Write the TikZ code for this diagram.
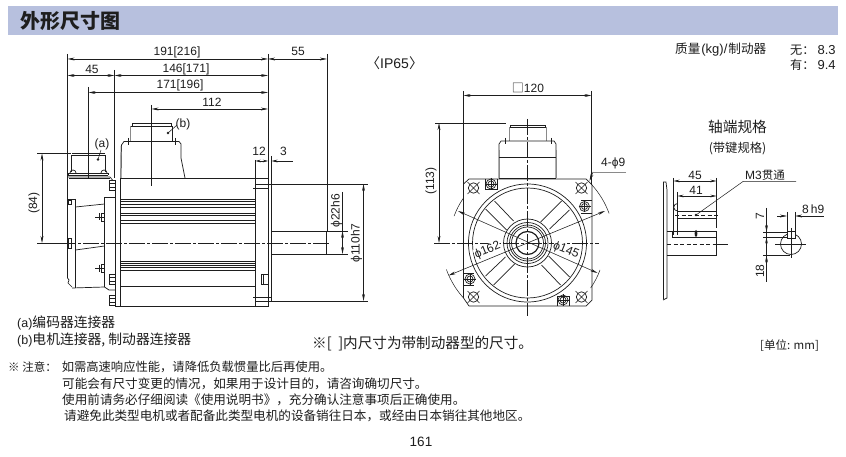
\documentclass[tikz,border=0pt]{standalone}
\usepackage{fontspec}
\setmainfont{Liberation Sans}
\newfontfamily\cjk{Noto Sans CJK SC}
\usetikzlibrary{arrows.meta,calc}
\definecolor{ink}{HTML}{1E1E1E}
\definecolor{band}{HTML}{B7C0DE}
\definecolor{soft}{HTML}{8A8A8A}
\tikzset{
  part/.style={draw=ink,line width=0.7pt},
  heavy/.style={draw=ink,line width=1.2pt},
  greyline/.style={draw=soft,line width=0.8pt},
  thin/.style={draw=ink,line width=0.5pt},
  dimline/.style={draw=ink,line width=0.55pt,{Stealth[length=7pt,width=2.8pt]}-{Stealth[length=7pt,width=2.8pt]}},
  toend/.style={draw=ink,line width=0.55pt,-{Stealth[length=7pt,width=2.8pt]}},
  centreline/.style={draw=ink,line width=0.5pt,dash pattern=on 16pt off 2pt on 3pt off 2pt},
  dashline/.style={draw=ink,line width=0.5pt,dash pattern=on 4pt off 2.5pt},
  lbl/.style={text=ink,inner sep=0pt,font=\fontsize{12}{13}\selectfont},
  zh/.style={text=ink,inner sep=0pt,anchor=west,font=\cjk\fontsize{12.6}{14}\selectfont},
  dot/.style={fill=ink,draw=none},
}
\newcommand{\boltside}[2]{% x,y : bolt seen from the side
  \draw[part,fill=white] (#1-3,#2-5) rectangle (#1+3,#2+5);
  \draw[part] (#1-3,#2-2) -- (#1+3,#2-2) (#1-3,#2+2) -- (#1+3,#2+2);
}
\newcommand{\boltsmall}[2]{%
  \draw[part] (#1-6,#2) -- (#1+3,#2);
  \draw[part] (#1,#2-4) rectangle (#1+3,#2+4);
  \draw[part] (#1-2,#2-3.5) -- (#1-2,#2+3.5);
}
\newcommand{\hole}[2]{%
  \draw[part] (#1,#2) circle (5.2);
  \draw[thin] (#1-6,#2-6) -- (#1+6,#2+6) (#1-6,#2+6) -- (#1+6,#2-6);
}
\newcommand{\tapped}[2]{%
  \draw[part] (#1,#2) circle (5);
  \draw[part] (#1,#2) circle (3);
  \draw[thin] (#1-6,#2) -- (#1+6,#2) (#1,#2-6) -- (#1,#2+6);
}
\begin{document}
\begin{tikzpicture}[x=1pt,y=-1pt]
\useasboundingbox (0,0) rectangle (846,457);
\fill[white] (0,0) rectangle (846,457);
% title band
\fill[band] (8,6) rectangle (838,35);
\node[text=ink,inner sep=0pt,anchor=west,font=\cjk\bfseries\fontsize{20}{22}\selectfont] (title) at (20,21) {外形尺寸图};

% ---------- left view: extension lines
\draw[thin] (67.5,54) -- (67.5,177);
\draw[thin] (268,54) -- (268,179);
\draw[thin] (327,54) -- (327,231);
\draw[thin] (114.5,70) -- (114.5,178);
\draw[thin] (88.5,87) -- (88.5,178);
\draw[thin] (151.5,105) -- (151.5,186);
\draw[thin] (255.5,160) -- (255.5,179);
\draw[thin] (271.5,156) -- (271.5,184);
% dimensions
\draw[dimline] (67.5,59) -- (268,59);
\draw[dimline] (268,59) -- (327,59);
\draw[dimline] (67.5,75.5) -- (114.5,75.5);
\draw[dimline] (114.5,75.5) -- (268,75.5);
\draw[dimline] (88.5,92.5) -- (268,92.5);
\draw[dimline] (151.5,109) -- (268,109);
\node[lbl] (d191) at (177,52) {191[216]};
\node[lbl] (d55) at (298,51.5) {55};
\node[lbl] (d45) at (92,69) {45};
\node[lbl] (d146) at (186,69) {146[171]};
\node[lbl] (d171) at (180,85.5) {171[196]};
\node[lbl] (d112) at (212,102) {112};
\node[lbl] (d12) at (259,151) {12};
\node[lbl] (d3) at (283.5,151) {3};
% 12 / 3
\draw[draw=ink,line width=.5pt,{Stealth[length=5pt,width=2.5pt]}-{Stealth[length=5pt,width=2.5pt]}] (255.5,161) -- (268,161);
\draw[toend,{Stealth[length=6pt,width=2.8pt]}-] (271.5,161) -- (293,161);

% connector (a)
\draw[part] (71,172) -- (71,155) -- (105.5,155) -- (105.5,172);
\draw[part] (72,153.5) -- (105,153.5);
\draw[part] (68,175.5) -- (68,173) -- (108,173) -- (108,175.5);
\draw[part] (68,175.5) -- (108,175.5);
\draw[part] (69,178) -- (110,178);
\draw[part] (70,173) arc (180:360:3) (101,173) arc (180:360:3);
\fill[dot] (98,159.5) circle (1.3);
\draw[thin] (98,159.5) -- (101,150);
\node[lbl] (la) at (102,144) {(a)};
% connector (b)
\draw[part] (132.5,126) -- (132.5,123.5) -- (171,123.5) -- (171,126);
\draw[part] (131,126) -- (172,126);
\draw[greyline] (130.5,126) -- (130.5,141);
\draw[part] (172,126) -- (172,141);
\draw[part] (121,178) -- (121.5,145) -- (124,141.5) -- (179,141.5) -- (181,144) -- (181,158) -- (185,178);
\draw[greyline] (120.5,178) -- (121,146);
\draw[part] (128,138) -- (128,145) (175,138) -- (175,145);
\fill[dot] (168,133) circle (1.3);
\draw[thin] (168,133) -- (177,125);
\node[lbl] (lb) at (183,124.5) {(b)};

% motor body
\draw[part] (120,179) -- (120,306) -- (268,306) -- (268,179);
\draw[heavy] (120,178.8) -- (186,178.8);
\draw[part] (186,178.8) -- (268,178.8);
\draw[part] (255.5,179) -- (255.5,306);
\draw[part] (271.5,184) -- (271.5,301) -- (268,301);
\draw[part] (115,183) -- (115,306) -- (120,306);
\draw[part] (253,188) -- (268,188) (253,297) -- (271.5,297);
\foreach \y in {199.5,201.7,203.8,207.5,213,215.3,220,223.5,261,263,265.5,267.7,270,286.7}
  \draw[thin] (120,\y) -- (255.5,\y);
% flange slot
\draw[part] (261,274) rectangle (268,284);
\draw[part] (263.5,274) -- (263.5,284);
% encoder end
\draw[part] (67.5,177) -- (67.5,278) -- (69,280) -- (68,283) -- (72,287);
\draw[part] (67.5,177) -- (110,177) -- (115,183);
\draw[heavy] (75.5,199) -- (75.5,288);
\draw[part] (68,200) rectangle (71,204);
\draw[part] (68,238) rectangle (71,248);
\draw[part] (68,199) -- (75.5,199);
\draw[part] (75.5,207) -- (104.5,204);
\draw[part] (75.5,250) -- (104.5,246);
\draw[part] (72,288) -- (104.5,287);
\draw[part] (104.5,287) -- (104.5,197) -- (115,197);
\draw[part] (104.5,287) -- (109,290) -- (115,290);
\boltside{112}{185}
\boltside{112}{279}
\boltside{112}{300}
\boltsmall{101}{217}
\boltsmall{101}{268}
% shaft
\draw[part] (271.5,231) -- (326.5,231) -- (326.5,254) -- (271.5,254);
% centre line
\draw[centreline] (60,243) -- (330,243);
% right-side dimensions
\draw[thin] (255,184) -- (368,184);
\draw[thin] (255,301) -- (368,301);
\draw[thin] (326.5,231) -- (348,231);
\draw[thin] (326.5,254) -- (348,254);
\draw[thin] (342.5,192) -- (342.5,231);
\draw[dimline] (342.5,231) -- (342.5,254);
\draw[dimline] (363.5,184) -- (363.5,301);
\node[lbl,rotate=90] (dsh) at (336.5,211) {\char"03D5 22h6};
\node[lbl,rotate=90] (dbody) at (356.5,243) {\char"03D5 110h7};
% (84)
\draw[thin] (37,153.5) -- (71,153.5);
\draw[thin] (37,243) -- (60,243);
\draw[dimline] (42,153.5) -- (42,243);
\node[lbl,rotate=90] (d84) at (34,203) {(84)};

% texts top
\node[zh,font=\cjk\fontsize{14}{16}\selectfont] (ip) at (366,63) {〈\fontspec{Liberation Sans}IP65\cjk\fontsize{14}{16}\selectfont〉};
\node[zh,anchor=west,font=\cjk\fontsize{12.6}{14}\selectfont] (mass) at (675,50) {质量\hspace{1pt}\fontspec{Liberation Sans}\fontsize{13}{14}\selectfont(kg)/\hspace{1pt}\cjk\fontsize{12.6}{14}\selectfont 制动器};
\node[zh,anchor=west,font=\cjk\fontsize{12.2}{14}\selectfont] (m1) at (790,50) {无：\hspace{3pt}\fontspec{Liberation Sans}\fontsize{13}{14}\selectfont 8.3};
\node[zh,anchor=west,font=\cjk\fontsize{12.2}{14}\selectfont] (m2) at (790,65) {有：\hspace{3pt}\fontspec{Liberation Sans}\fontsize{13}{14}\selectfont 9.4};

% ---------- front view
\coordinate (c) at (527.5,243);
\draw[thin] (463.5,91) -- (463.5,184);
\draw[thin] (591.5,91) -- (591.5,185);
\draw[dimline] (463.5,95.5) -- (591.5,95.5);
\node[lbl] (d120) at (528,88) {{\cjk □}120};
\draw[thin] (435,123) -- (506,123);
\draw[dimline] (439,123) -- (439,243);
\node[lbl,rotate=90] (d113) at (431,181) {(113)};
% connector
\draw[part] (510,127) -- (510,125) -- (545,125) -- (545,127);
\draw[part] (509,127.5) -- (546,127.5);
\draw[greyline] (509,127.5) -- (509,141);
\draw[greyline] (546,127.5) -- (546,141);
\draw[part] (499,178) -- (499,144) -- (501,141) -- (554,141) -- (556,144) -- (556,178);
\draw[greyline] (499,150) -- (499,178) (556,150) -- (556,178);
\draw[part] (505,138) -- (505,144) (551,138) -- (551,144);
\draw[part] (499,157) -- (556,157);
\draw[heavy] (499,178.5) -- (556,178.5);
% square
\draw[part] (469,179) -- (586,179) -- (592,185) -- (592,300) -- (586,306) -- (469,306) -- (463.5,298) -- (463.5,184) -- cycle;
% rings
\draw[part] (c) circle (59);
\draw[part] (c) circle (55);
\draw[part] (c) circle (24);
\draw[part] (c) circle (20.5);
\draw[part] (c) circle (18);
\draw[part] (c) circle (16);
\draw[heavy] (c) circle (11.5);
\foreach \r in {0,90,180,270}
  \draw[part,rotate around={\r:(c)}] ($(c)+(-42,-34)$) -- ($(c)+(-21,-13)$) ($(c)+(-33,-42)$) -- ($(c)+(-14,-22)$);
\hole{473.5}{188}
\hole{581.5}{188}
\hole{473.5}{297}
\hole{581.5}{297}
\tapped{491}{184}
\tapped{584.5}{206.5}
\tapped{470}{279}
\tapped{563}{300}
\draw[thin] (485,179) -- (485,189) -- (497,189) -- (497,179);
\draw[thin] (581,200) -- (591.5,200) (581,213) -- (591.5,213);
\draw[thin] (463.5,273) -- (474,273) (463.5,285) -- (474,285);
\draw[thin] (557,306) -- (557,296) -- (569,296) -- (569,306);
% centre lines
\draw[centreline] (527.5,119) -- (527.5,316);
\draw[centreline] (434,243) -- (599,243);
% diameter leaders
\draw[dimline] (448.5,275.5) -- (605,211);
\draw[dimline] (458,211) -- (597.5,273);
\draw[thin] (592,185) arc (-42:-20:87);
\draw[thin] (463.5,298) arc (138:160:87);
\draw[thin] (463.5,198) arc (215:200:78);
\draw[thin] (600,270) arc (20:35:78);
\node[lbl,rotate=22,fill=white,inner sep=.3pt] (d162) at (487.5,250.5) {\char"03D5 162};
\node[lbl,rotate=-22,fill=white,inner sep=.3pt] (d145) at (566,250.5) {\char"03D5 145};
% 4-phi9
\node[lbl,anchor=west] (d4) at (601,163.5) {4-\char"03D5 9};
\draw[toend] (593,172) -- (589.5,181);
\draw[draw=soft,line width=.6pt] (626,172) -- (593,172);

% ---------- shaft detail
\node[zh,anchor=center,font=\cjk\fontsize{14.7}{16}\selectfont] (st) at (737.5,127) {轴端规格};
\node[zh,anchor=center,font=\cjk\fontsize{12.3}{14}\selectfont] (st2) at (737.5,149) {(带键规格)};
\draw[part] (663,182) -- (666,182) -- (667,190) -- (667,298) -- (663,300);
\draw[part] (663,182) -- (663,299);
\draw[thin] (673.5,178) -- (673.5,235);
\draw[thin] (677.5,192) -- (677.5,235);
\draw[thin] (716.5,178) -- (716.5,228);
\draw[draw=ink,line width=.5pt,{Stealth[length=6pt,width=2.6pt]}-{Stealth[length=6pt,width=2.6pt]}] (673.5,181) -- (716.5,181);
\draw[draw=ink,line width=.5pt,{Stealth[length=6pt,width=2.6pt]}-{Stealth[length=6pt,width=2.6pt]}] (677.5,196) -- (716.5,196);
\node[lbl] (d45b) at (695,175.5) {45};
\node[lbl] (d41) at (696,190) {41};
\draw[part] (677.5,211) -- (716.5,211);
\draw[part] (677.5,218.5) -- (716.5,218.5);
\draw[part] (677.5,211) arc (90:270:3.75);
\draw[dashline] (675,215) -- (719,215);
\fill[dot] (696,215) circle (1.4);
\node[zh,anchor=west,font=\cjk\fontsize{11.5}{13}\selectfont] (m3) at (745,175) {\fontspec{Liberation Sans}\fontsize{12}{13}\selectfont M3\cjk\fontsize{11.5}{13}\selectfont 贯通};
\draw[thin] (696,215) -- (743,181.5) -- (796,181.5);
\draw[part] (667,231) -- (716.5,231) -- (716.5,255) -- (667,255);
\draw[part] (672,231) -- (672,237) -- (716.5,237);
\draw[dashline] (667,244) -- (717,244);
\draw[thin] (717,244) -- (728,244);
\fill[dot] (696,233.5) ellipse (1.4 and 3.5);
% section
\draw[part] (791,244) circle (10.5);
\draw[part,fill=white] (787,231.5) rectangle (795,238);
\draw[thin] (775,244) -- (806,244) (791,228) -- (791,258);
\draw[thin] (766.5,208) -- (766.5,282);
\draw[thin] (763,232) -- (787,232);
\draw[thin] (763,237.5) -- (787,237.5);
\draw[thin] (763,255.5) -- (790,255.5);
\draw[toend] (766.5,222) -- (766.5,232);
\draw[draw=ink,line width=.5pt,{Stealth[length=6pt,width=2.6pt]}-] (766.5,237.5) -- (766.5,255.5);
\draw[toend] (766.5,270) -- (766.5,255.5);
\node[lbl,rotate=90] (d7) at (760,216) {7};
\node[lbl,rotate=90] (d18) at (760,271) {18};
\draw[thin] (787,212) -- (787,232) (795,212) -- (795,232);
\draw[toend] (777,216) -- (787,216);
\draw[toend] (805,216) -- (795,216);
\draw[thin] (805,216) -- (824,216);
\node[lbl,anchor=west] (d8) at (802,209.5) {8\,h9};

% ---------- bottom text
\node[zh,font=\cjk\fontsize{13.8}{15}\selectfont] (na) at (17,323) {\fontspec{Liberation Sans}\fontsize{12.5}{15}\selectfont(a)\cjk\fontsize{13.8}{15}\selectfont 编码器连接器};
\node[zh,font=\cjk\fontsize{13.8}{15}\selectfont] (nb) at (17,340) {\fontspec{Liberation Sans}\fontsize{12.5}{15}\selectfont(b)\cjk\fontsize{13.8}{15}\selectfont 电机连接器, 制动器连接器};
\node[zh,font=\cjk\fontsize{14.6}{16}\selectfont] (nc) at (312,344) {※[\ \ ]内尺寸为带制动器型的尺寸。};
\node[zh,font=\cjk\fontsize{11.5}{13}\selectfont] (unit) at (760,346) {[单位: mm]};
\node[zh,font=\cjk\fontsize{11.5}{14}\selectfont] (n1) at (8,367) {※ 注意：\hspace{5pt}{\fontsize{12.3}{14}\selectfont 如需高速响应性能，请降低负载惯量比后再使用。}};
\node[zh] (n2) at (62,384) {可能会有尺寸变更的情况，如果用于设计目的，请咨询确切尺寸。};
\node[zh] (n3) at (62,400) {使用前请务必仔细阅读《使用说明书》，充分确认注意事项后正确使用。};
\node[zh] (n4) at (64,416) {请避免此类型电机或者配备此类型电机的设备销往日本，或经由日本销往其他地区。};
\node[lbl,font=\fontsize{13.5}{15}\selectfont] (pg) at (421,442) {161};
\end{tikzpicture}
\end{document}
